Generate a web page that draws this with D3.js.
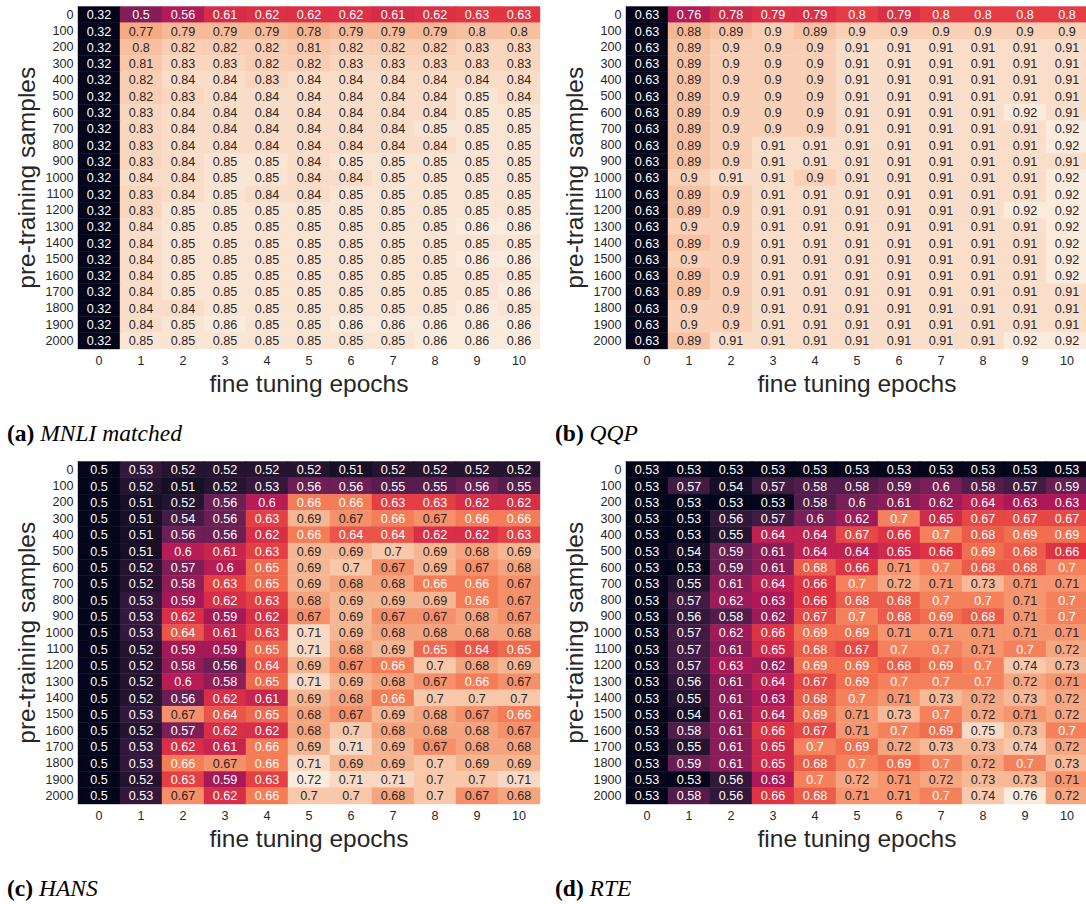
<!DOCTYPE html>
<html>
<head>
<meta charset="utf-8">
<script src="https://cdn.jsdelivr.net/npm/d3@7"></script>
<style>
  html, body { margin: 0; padding: 0; background: #ffffff; }
  svg { display: block; }
  .tick text { font-family: "Liberation Sans", Arial, sans-serif; }
</style>
</head>
<body>
<svg id="chart" width="1086" height="904"></svg>
<script>
// Axis categories
const epochs = [0, 1, 2, 3, 4, 5, 6, 7, 8, 9, 10];
const samples = [0, 100, 200, 300, 400, 500, 600, 700, 800, 900, 1000,
                 1100, 1200, 1300, 1400, 1500, 1600, 1700, 1800, 1900, 2000];

// Accuracy grids: one row per pre-training sample count, one column per epoch
const mnliMatched = [
  [0.32, 0.5, 0.56, 0.61, 0.62, 0.62, 0.62, 0.61, 0.62, 0.63, 0.63],
  [0.32, 0.77, 0.79, 0.79, 0.79, 0.78, 0.79, 0.79, 0.79, 0.8, 0.8],
  [0.32, 0.8, 0.82, 0.82, 0.82, 0.81, 0.82, 0.82, 0.82, 0.83, 0.83],
  [0.32, 0.81, 0.83, 0.83, 0.82, 0.82, 0.83, 0.83, 0.83, 0.83, 0.83],
  [0.32, 0.82, 0.84, 0.84, 0.83, 0.84, 0.84, 0.84, 0.84, 0.84, 0.84],
  [0.32, 0.82, 0.83, 0.84, 0.84, 0.84, 0.84, 0.84, 0.84, 0.85, 0.84],
  [0.32, 0.83, 0.84, 0.84, 0.84, 0.84, 0.84, 0.84, 0.84, 0.85, 0.85],
  [0.32, 0.83, 0.84, 0.84, 0.84, 0.84, 0.84, 0.84, 0.85, 0.85, 0.85],
  [0.32, 0.83, 0.84, 0.84, 0.84, 0.84, 0.84, 0.84, 0.84, 0.85, 0.85],
  [0.32, 0.83, 0.84, 0.85, 0.85, 0.84, 0.85, 0.85, 0.85, 0.85, 0.85],
  [0.32, 0.84, 0.84, 0.85, 0.85, 0.84, 0.84, 0.85, 0.85, 0.85, 0.85],
  [0.32, 0.83, 0.84, 0.85, 0.84, 0.84, 0.85, 0.85, 0.85, 0.85, 0.85],
  [0.32, 0.83, 0.85, 0.85, 0.85, 0.85, 0.85, 0.85, 0.85, 0.85, 0.85],
  [0.32, 0.84, 0.85, 0.85, 0.85, 0.85, 0.85, 0.85, 0.85, 0.86, 0.86],
  [0.32, 0.84, 0.85, 0.85, 0.85, 0.85, 0.85, 0.85, 0.85, 0.85, 0.85],
  [0.32, 0.84, 0.85, 0.85, 0.85, 0.85, 0.85, 0.85, 0.85, 0.86, 0.86],
  [0.32, 0.84, 0.85, 0.85, 0.85, 0.85, 0.85, 0.85, 0.85, 0.85, 0.85],
  [0.32, 0.84, 0.85, 0.85, 0.85, 0.85, 0.85, 0.85, 0.85, 0.85, 0.86],
  [0.32, 0.84, 0.84, 0.85, 0.85, 0.85, 0.85, 0.85, 0.85, 0.86, 0.85],
  [0.32, 0.84, 0.85, 0.86, 0.85, 0.85, 0.86, 0.86, 0.86, 0.86, 0.86],
  [0.32, 0.85, 0.85, 0.85, 0.85, 0.85, 0.85, 0.85, 0.86, 0.86, 0.86]
];

const qqp = [
  [0.63, 0.76, 0.78, 0.79, 0.79, 0.8, 0.79, 0.8, 0.8, 0.8, 0.8],
  [0.63, 0.88, 0.89, 0.9, 0.89, 0.9, 0.9, 0.9, 0.9, 0.9, 0.9],
  [0.63, 0.89, 0.9, 0.9, 0.9, 0.91, 0.91, 0.91, 0.91, 0.91, 0.91],
  [0.63, 0.89, 0.9, 0.9, 0.9, 0.91, 0.91, 0.91, 0.91, 0.91, 0.91],
  [0.63, 0.89, 0.9, 0.9, 0.9, 0.91, 0.91, 0.91, 0.91, 0.91, 0.91],
  [0.63, 0.89, 0.9, 0.9, 0.9, 0.91, 0.91, 0.91, 0.91, 0.91, 0.91],
  [0.63, 0.89, 0.9, 0.9, 0.9, 0.91, 0.91, 0.91, 0.91, 0.92, 0.91],
  [0.63, 0.89, 0.9, 0.9, 0.9, 0.91, 0.91, 0.91, 0.91, 0.91, 0.92],
  [0.63, 0.89, 0.9, 0.91, 0.91, 0.91, 0.91, 0.91, 0.91, 0.91, 0.92],
  [0.63, 0.89, 0.9, 0.91, 0.91, 0.91, 0.91, 0.91, 0.91, 0.91, 0.91],
  [0.63, 0.9, 0.91, 0.91, 0.9, 0.91, 0.91, 0.91, 0.91, 0.91, 0.92],
  [0.63, 0.89, 0.9, 0.91, 0.91, 0.91, 0.91, 0.91, 0.91, 0.91, 0.92],
  [0.63, 0.89, 0.9, 0.91, 0.91, 0.91, 0.91, 0.91, 0.91, 0.92, 0.92],
  [0.63, 0.9, 0.9, 0.91, 0.91, 0.91, 0.91, 0.91, 0.91, 0.91, 0.92],
  [0.63, 0.89, 0.9, 0.91, 0.91, 0.91, 0.91, 0.91, 0.91, 0.91, 0.92],
  [0.63, 0.9, 0.9, 0.91, 0.91, 0.91, 0.91, 0.91, 0.91, 0.91, 0.92],
  [0.63, 0.89, 0.9, 0.91, 0.91, 0.91, 0.91, 0.91, 0.91, 0.91, 0.92],
  [0.63, 0.89, 0.9, 0.91, 0.91, 0.91, 0.91, 0.91, 0.91, 0.91, 0.91],
  [0.63, 0.9, 0.9, 0.91, 0.91, 0.91, 0.91, 0.91, 0.91, 0.91, 0.91],
  [0.63, 0.9, 0.9, 0.91, 0.91, 0.91, 0.91, 0.91, 0.91, 0.91, 0.91],
  [0.63, 0.89, 0.91, 0.91, 0.91, 0.91, 0.91, 0.91, 0.91, 0.92, 0.92]
];

const hans = [
  [0.5, 0.53, 0.52, 0.52, 0.52, 0.52, 0.51, 0.52, 0.52, 0.52, 0.52],
  [0.5, 0.52, 0.51, 0.52, 0.53, 0.56, 0.56, 0.55, 0.55, 0.56, 0.55],
  [0.5, 0.51, 0.52, 0.56, 0.6, 0.66, 0.66, 0.63, 0.63, 0.62, 0.62],
  [0.5, 0.51, 0.54, 0.56, 0.63, 0.69, 0.67, 0.66, 0.67, 0.66, 0.66],
  [0.5, 0.51, 0.56, 0.56, 0.62, 0.66, 0.64, 0.64, 0.62, 0.62, 0.63],
  [0.5, 0.51, 0.6, 0.61, 0.63, 0.69, 0.69, 0.7, 0.69, 0.68, 0.69],
  [0.5, 0.52, 0.57, 0.6, 0.65, 0.69, 0.7, 0.67, 0.69, 0.67, 0.68],
  [0.5, 0.52, 0.58, 0.63, 0.65, 0.69, 0.68, 0.68, 0.66, 0.66, 0.67],
  [0.5, 0.53, 0.59, 0.62, 0.63, 0.68, 0.69, 0.69, 0.69, 0.66, 0.67],
  [0.5, 0.53, 0.62, 0.59, 0.62, 0.67, 0.69, 0.67, 0.67, 0.68, 0.67],
  [0.5, 0.53, 0.64, 0.61, 0.63, 0.71, 0.69, 0.68, 0.68, 0.68, 0.68],
  [0.5, 0.52, 0.59, 0.59, 0.65, 0.71, 0.68, 0.69, 0.65, 0.64, 0.65],
  [0.5, 0.52, 0.58, 0.56, 0.64, 0.69, 0.67, 0.66, 0.7, 0.68, 0.69],
  [0.5, 0.52, 0.6, 0.58, 0.65, 0.71, 0.69, 0.68, 0.67, 0.66, 0.67],
  [0.5, 0.52, 0.56, 0.62, 0.61, 0.69, 0.68, 0.66, 0.7, 0.7, 0.7],
  [0.5, 0.53, 0.67, 0.64, 0.65, 0.68, 0.67, 0.69, 0.68, 0.67, 0.66],
  [0.5, 0.52, 0.57, 0.62, 0.62, 0.68, 0.7, 0.68, 0.68, 0.68, 0.67],
  [0.5, 0.53, 0.62, 0.61, 0.66, 0.69, 0.71, 0.69, 0.67, 0.68, 0.68],
  [0.5, 0.53, 0.66, 0.67, 0.66, 0.71, 0.69, 0.69, 0.7, 0.69, 0.69],
  [0.5, 0.52, 0.63, 0.59, 0.63, 0.72, 0.71, 0.71, 0.7, 0.7, 0.71],
  [0.5, 0.53, 0.67, 0.62, 0.66, 0.7, 0.7, 0.68, 0.7, 0.67, 0.68]
];

const rte = [
  [0.53, 0.53, 0.53, 0.53, 0.53, 0.53, 0.53, 0.53, 0.53, 0.53, 0.53],
  [0.53, 0.57, 0.54, 0.57, 0.58, 0.58, 0.59, 0.6, 0.58, 0.57, 0.59],
  [0.53, 0.53, 0.53, 0.53, 0.58, 0.6, 0.61, 0.62, 0.64, 0.63, 0.63],
  [0.53, 0.53, 0.56, 0.57, 0.6, 0.62, 0.7, 0.65, 0.67, 0.67, 0.67],
  [0.53, 0.53, 0.55, 0.64, 0.64, 0.67, 0.66, 0.7, 0.68, 0.69, 0.69],
  [0.53, 0.54, 0.59, 0.61, 0.64, 0.64, 0.65, 0.66, 0.69, 0.68, 0.66],
  [0.53, 0.53, 0.59, 0.61, 0.68, 0.66, 0.71, 0.7, 0.68, 0.68, 0.7],
  [0.53, 0.55, 0.61, 0.64, 0.66, 0.7, 0.72, 0.71, 0.73, 0.71, 0.71],
  [0.53, 0.57, 0.62, 0.63, 0.66, 0.68, 0.68, 0.7, 0.7, 0.71, 0.7],
  [0.53, 0.56, 0.58, 0.62, 0.67, 0.7, 0.68, 0.69, 0.68, 0.71, 0.7],
  [0.53, 0.57, 0.62, 0.66, 0.69, 0.69, 0.71, 0.71, 0.71, 0.71, 0.71],
  [0.53, 0.57, 0.61, 0.65, 0.68, 0.67, 0.7, 0.7, 0.71, 0.7, 0.72],
  [0.53, 0.57, 0.63, 0.62, 0.69, 0.69, 0.68, 0.69, 0.7, 0.74, 0.73],
  [0.53, 0.56, 0.61, 0.64, 0.67, 0.69, 0.7, 0.7, 0.7, 0.72, 0.71],
  [0.53, 0.55, 0.61, 0.63, 0.68, 0.7, 0.71, 0.73, 0.72, 0.73, 0.72],
  [0.53, 0.54, 0.61, 0.64, 0.69, 0.71, 0.73, 0.7, 0.72, 0.71, 0.72],
  [0.53, 0.58, 0.61, 0.66, 0.67, 0.71, 0.7, 0.69, 0.75, 0.73, 0.7],
  [0.53, 0.55, 0.61, 0.65, 0.7, 0.69, 0.72, 0.73, 0.73, 0.74, 0.72],
  [0.53, 0.59, 0.61, 0.65, 0.68, 0.7, 0.69, 0.7, 0.72, 0.7, 0.73],
  [0.53, 0.53, 0.56, 0.63, 0.7, 0.72, 0.71, 0.72, 0.73, 0.73, 0.71],
  [0.53, 0.58, 0.56, 0.66, 0.68, 0.71, 0.71, 0.7, 0.74, 0.76, 0.72]
];

const captionLetters = ["(a)", "(b)", "(c)", "(d)"];
const captionNames = ["MNLI matched", "QQP", "HANS", "RTE"];
const xTitle = "fine tuning epochs";
const yTitle = "pre-training samples";

// "rocket"-style sequential palette, dark purple-black to pale cream
const rocketStops = ["#03051a", "#35193e", "#701f57", "#ad1759",
                     "#e13342", "#f37651", "#f6b48f", "#faebdd"];
const rocket = d3.piecewise(d3.interpolateLab, rocketStops);

// Annotation colour chosen from the cell's relative luminance
function textColor(fill) {
  const c = d3.rgb(fill);
  const lin = v => { v /= 255; return v <= 0.03928 ? v / 12.92 : Math.pow((v + 0.055) / 1.055, 2.4); };
  const L = 0.2126 * lin(c.r) + 0.7152 * lin(c.g) + 0.0722 * lin(c.b);
  return L > 0.38 ? "#262626" : "#ffffff";
}

const svg = d3.select("#chart");
const sansFont = '"Liberation Sans", Arial, sans-serif';
const serifFont = '"Liberation Serif", "Times New Roman", serif';

const panels = [
  { grid: mnliMatched, dx: 0,   dy: 0 },
  { grid: qqp,         dx: 548, dy: 0 },
  { grid: hans,        dx: 0,   dy: 455 },
  { grid: rte,         dx: 548, dy: 455 }
];

const x = d3.scaleBand().domain(epochs).range([78, 540]).padding(0);
const y = d3.scaleBand().domain(samples).range([6.5, 349]).padding(0);

panels.forEach((p, i) => {
  const g = svg.append("g").attr("transform", `translate(${p.dx},${p.dy})`);
  const flat = p.grid.flat();
  const color = d3.scaleSequential(rocket).domain([d3.min(flat), d3.max(flat)]);

  const cells = [];
  p.grid.forEach((row, r) => row.forEach((v, c) => cells.push({ s: samples[r], e: epochs[c], v })));

  g.append("g").selectAll("rect").data(cells).join("rect")
    .attr("x", d => x(d.e))
    .attr("y", d => y(d.s))
    .attr("width", x.bandwidth())
    .attr("height", y.bandwidth())
    .attr("fill", d => color(d.v))
    .attr("stroke", d => color(d.v))
    .attr("stroke-width", 0.4);

  g.append("g").selectAll("text").data(cells).join("text")
    .attr("x", d => x(d.e) + x.bandwidth() / 2)
    .attr("y", d => y(d.s) + y.bandwidth() / 2)
    .attr("dy", "0.36em")
    .attr("text-anchor", "middle")
    .attr("font-family", sansFont)
    .attr("font-size", 12.6)
    .attr("fill", d => textColor(color(d.v)))
    .text(d => String(d.v));

  // y axis: sample counts
  const yAxis = g.append("g").attr("transform", `translate(${x.range()[0]},0)`)
    .call(d3.axisLeft(y).tickSize(0).tickPadding(4.5));
  yAxis.select(".domain").remove();
  yAxis.selectAll("text").attr("font-size", 12.6).attr("fill", "#262626");

  // x axis: epochs
  const xAxis = g.append("g").attr("transform", `translate(0,${y.range()[1]})`)
    .call(d3.axisBottom(x).tickSize(0).tickPadding(7));
  xAxis.select(".domain").remove();
  xAxis.selectAll("text").attr("font-size", 12.6).attr("fill", "#262626");

  // axis titles
  g.append("text")
    .attr("x", (x.range()[0] + x.range()[1]) / 2)
    .attr("y", 392)
    .attr("text-anchor", "middle")
    .attr("font-family", sansFont)
    .attr("font-size", 24.5)
    .attr("fill", "#262626")
    .text(xTitle);

  g.append("text")
    .attr("transform", `translate(35,${(y.range()[0] + y.range()[1]) / 2}) rotate(-90)`)
    .attr("text-anchor", "middle")
    .attr("font-family", sansFont)
    .attr("font-size", 24.5)
    .attr("fill", "#262626")
    .text(yTitle);

  // sub-figure caption
  const cap = g.append("text")
    .attr("x", 7)
    .attr("y", 441)
    .attr("font-family", serifFont)
    .attr("font-size", 23.5)
    .attr("fill", "#000000");
  cap.append("tspan").attr("font-weight", "bold").text(captionLetters[i]);
  cap.append("tspan").attr("font-style", "italic").text(" " + captionNames[i]);
});
</script>
</body>
</html>
